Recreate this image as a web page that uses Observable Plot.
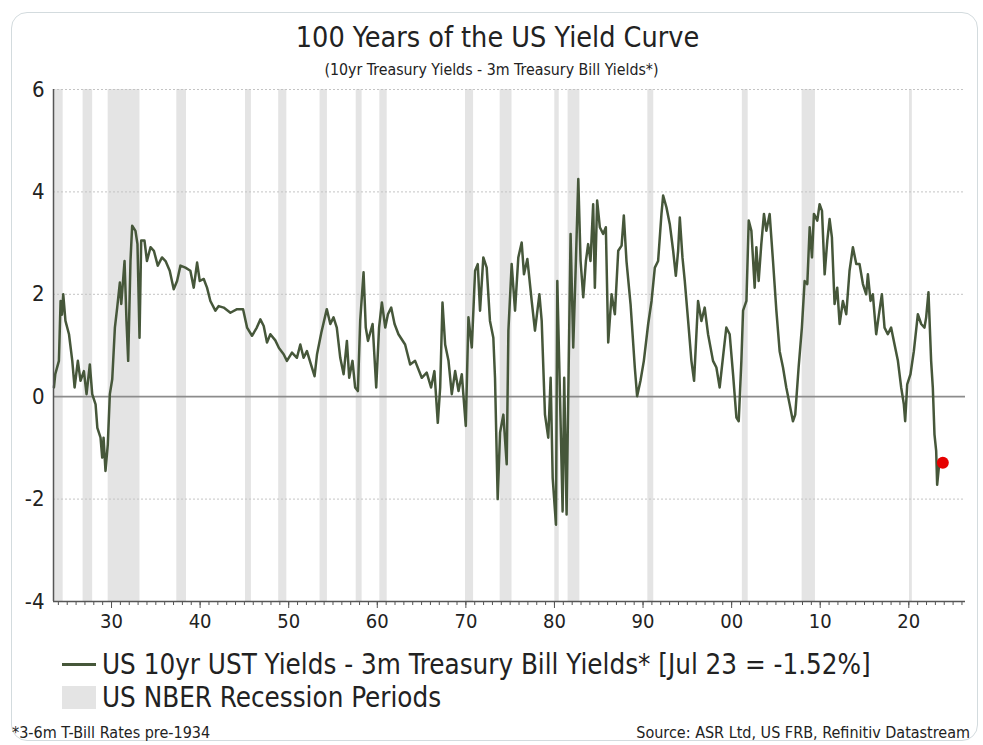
<!DOCTYPE html>
<html><head><meta charset="utf-8">
<script src="https://cdn.jsdelivr.net/npm/d3@7"></script>
<script src="https://cdn.jsdelivr.net/npm/@observablehq/plot@0.6"></script>
<style>
body{margin:0;background:#fff;width:983px;height:745px;position:relative;overflow:hidden;font-family:"DejaVu Sans Condensed","Liberation Sans Narrow","DejaVu Sans",sans-serif;font-stretch:condensed;color:#222}
#frame{position:absolute;left:11px;top:12px;width:967px;height:729px;border:1px solid #d3dbde;border-radius:16px;box-sizing:border-box}
#title{position:absolute;left:6px;width:983px;top:21px;text-align:center;font-size:28.5px;line-height:34px;color:#222}
#subtitle{position:absolute;left:0;width:983px;top:61px;text-align:center;font-size:15.8px;line-height:18px;color:#222}
#chart{position:absolute;left:0;top:70px}
.leg{position:absolute;left:62px;height:33px;display:flex;align-items:center;font-size:27.5px;line-height:33px;color:#222}
.sw-line{width:34px;height:3px;background:#46573a;margin-right:6px}
.sw-rect{width:34px;height:23px;background:#e4e4e4;margin-right:6px}
#foot-l{position:absolute;left:12px;top:723px;font-size:16px;line-height:19px}
#foot-r{position:absolute;right:13px;top:723px;font-size:16px;line-height:19px}
</style></head>
<body>
<div id="frame"></div>
<div id="title">100 Years of the US Yield Curve</div>
<div id="subtitle">(10yr Treasury Yields - 3m Treasury Bill Yields*)</div>
<div id="chart"></div>
<div class="leg" style="top:648px"><div class="sw-line"></div><span>US 10yr UST Yields - 3m Treasury Bill Yields* [Jul 23 = -1.52%]</span></div>
<div class="leg" style="top:681px"><div class="sw-rect"></div><span>US NBER Recession Periods</span></div>
<div id="foot-l">*3-6m T-Bill Rates pre-1934</div>
<div id="foot-r">Source: ASR Ltd, US FRB, Refinitiv Datastream</div>
<script>
const years = [1923.50,1923.65,1924.06,1924.25,1924.40,1924.55,1924.80,1925.20,1925.57,1925.83,1926.20,1926.50,1926.88,1927.18,1927.55,1927.82,1928.20,1928.40,1928.76,1928.95,1929.10,1929.32,1929.58,1929.81,1930.08,1930.38,1930.64,1930.94,1931.10,1931.47,1931.69,1931.88,1932.14,1932.33,1932.70,1932.93,1933.16,1933.35,1933.72,1934.00,1934.40,1934.78,1935.22,1935.70,1936.10,1936.57,1937.02,1937.40,1937.78,1938.34,1938.90,1939.28,1939.66,1939.96,1940.41,1940.78,1941.16,1941.72,1942.10,1942.66,1943.42,1944.17,1944.85,1945.30,1945.86,1946.40,1946.80,1947.18,1947.55,1947.93,1948.49,1948.90,1949.43,1949.80,1950.37,1950.93,1951.31,1951.68,1952.06,1952.44,1952.92,1953.20,1953.68,1954.30,1954.70,1955.06,1955.43,1955.82,1956.20,1956.57,1956.83,1957.20,1957.50,1957.81,1958.07,1958.45,1958.70,1958.95,1959.47,1959.88,1960.20,1960.52,1960.90,1961.20,1961.57,1961.95,1962.39,1963.14,1963.71,1964.27,1965.02,1965.58,1966.07,1966.45,1966.83,1967.10,1967.36,1967.66,1968.04,1968.41,1968.79,1969.17,1969.54,1969.99,1970.29,1970.67,1971.04,1971.34,1971.60,1971.97,1972.35,1972.72,1973.10,1973.29,1973.59,1973.86,1974.23,1974.61,1974.80,1975.17,1975.55,1975.92,1976.30,1976.56,1976.94,1977.43,1977.80,1978.30,1978.56,1978.93,1979.30,1979.57,1979.80,1980.17,1980.32,1980.62,1980.92,1981.10,1981.37,1981.56,1981.82,1982.12,1982.42,1982.69,1982.95,1983.25,1983.55,1983.80,1984.07,1984.37,1984.56,1984.82,1985.12,1985.50,1985.80,1986.07,1986.45,1986.82,1987.20,1987.58,1987.83,1988.13,1988.59,1989.07,1989.33,1989.71,1990.09,1990.58,1990.96,1991.33,1991.70,1992.08,1992.27,1992.64,1993.02,1993.40,1993.70,1993.96,1994.15,1994.45,1994.71,1995.09,1995.46,1995.76,1996.21,1996.59,1996.96,1997.34,1997.90,1998.28,1998.65,1999.10,1999.40,1999.78,2000.16,2000.54,2000.80,2001.10,2001.29,2001.67,2001.93,2002.23,2002.60,2002.79,2003.05,2003.35,2003.65,2003.92,2004.29,2004.67,2005.05,2005.42,2005.80,2006.17,2006.55,2006.92,2007.18,2007.56,2007.93,2008.24,2008.54,2008.81,2009.07,2009.29,2009.67,2009.93,2010.20,2010.50,2010.80,2011.06,2011.32,2011.62,2011.92,2012.19,2012.56,2012.94,2013.31,2013.69,2014.07,2014.44,2014.82,2015.19,2015.38,2015.68,2015.94,2016.32,2016.58,2016.96,2017.26,2017.63,2018.00,2018.39,2018.77,2019.14,2019.44,2019.59,2019.82,2020.19,2020.57,2021.02,2021.40,2021.77,2021.96,2022.22,2022.52,2022.71,2022.90,2023.09,2023.20,2023.46];
const spread = [0.18,0.44,0.70,1.87,1.60,2.00,1.48,1.22,0.70,0.18,0.70,0.31,0.50,0.05,0.63,0.05,-0.15,-0.61,-0.80,-1.19,-0.80,-1.45,-0.93,0.05,0.34,1.35,1.74,2.23,1.81,2.65,1.48,0.70,2.65,3.34,3.24,2.98,1.15,3.05,3.05,2.65,2.92,2.85,2.56,2.72,2.65,2.46,2.10,2.26,2.56,2.52,2.46,2.13,2.62,2.26,2.30,2.13,1.87,1.68,1.77,1.74,1.64,1.71,1.71,1.35,1.19,1.35,1.51,1.38,1.06,1.22,1.10,0.95,0.83,0.70,0.86,0.76,1.02,0.76,0.89,0.67,0.40,0.83,1.25,1.71,1.42,1.55,1.35,0.76,0.44,1.09,0.37,0.70,0.18,0.11,1.48,2.43,1.35,1.09,1.42,0.18,1.35,1.84,1.35,1.61,1.74,1.42,1.22,1.02,0.63,0.70,0.37,0.47,0.18,0.50,-0.51,0.18,1.84,1.02,0.70,0.05,0.50,0.11,0.44,-0.57,1.55,0.96,2.46,2.59,1.68,2.72,2.52,1.48,1.15,0.37,-2.00,-0.70,-0.35,-1.32,1.29,2.59,1.68,2.72,3.01,2.39,2.69,1.87,1.29,2.00,1.48,-0.35,-0.80,0.37,-1.59,-2.50,2.26,0.05,-2.24,0.37,-2.30,0.05,3.18,0.96,2.65,4.25,2.65,1.94,2.65,2.98,2.65,3.76,2.13,3.83,3.31,3.18,3.31,1.06,2.00,1.61,2.85,2.95,3.54,2.65,1.81,0.57,0.01,0.31,0.70,1.42,1.87,2.52,2.65,3.57,3.93,3.70,3.37,2.85,2.36,2.85,3.50,2.72,2.26,1.48,0.70,0.31,1.87,1.48,1.74,1.22,0.70,0.57,0.18,0.89,1.35,1.22,0.44,-0.41,-0.48,0.70,1.68,1.87,3.44,3.24,2.13,2.92,2.26,2.98,3.57,3.24,3.57,2.65,1.68,0.89,0.57,0.18,-0.15,-0.48,-0.35,0.57,1.35,2.26,2.20,3.31,2.72,3.57,3.44,3.76,3.63,2.39,3.05,3.47,3.11,1.81,2.13,1.42,1.87,1.61,2.46,2.92,2.59,2.59,2.20,2.00,2.39,1.87,2.00,1.22,1.55,2.00,1.35,1.22,1.35,1.02,0.70,0.18,-0.15,-0.48,0.24,0.44,0.89,1.61,1.42,1.35,1.55,2.04,0.70,0.18,-0.74,-1.06,-1.72,-1.26];
const latestYear = [2023.84];
const latestValue = [-1.29];
const recStart = [1923.45,1926.79,1929.62,1937.37,1945.12,1948.87,1953.54,1957.62,1960.29,1969.96,1973.87,1980.04,1981.54,1990.54,2001.21,2007.96,2020.08];
const recEnd   = [1924.54,1927.87,1933.21,1938.46,1945.79,1949.79,1954.37,1958.29,1961.12,1970.87,1975.21,1980.54,1982.87,1991.21,2001.87,2009.46,2020.40];
const yTicks = [-4,-2,0,2,4,6];
const gridY = [-2,2,4,6];
const decadeTicks = [1930,1940,1950,1960,1970,1980,1990,2000,2010,2020];
const decadeLabels = ["30","40","50","60","70","80","90","00","10","20"];
const xDomain = [1923.45, 2026.4];
const yDomain = [-4, 6];

const series = years.map((y,i)=>({year:y, v:spread[i]}));
const latest = latestYear.map((y,i)=>({year:y, v:latestValue[i]}));
const recessions = recStart.map((s,i)=>({start:s, end:recEnd[i]}));
const minorTicks = d3.range(1924, 2027);

const chart = Plot.plot({
  width:983, height:580,
  marginLeft:53, marginRight:18, marginTop:19, marginBottom:49,
  style:{fontFamily:'"DejaVu Sans Condensed","Liberation Sans Narrow","DejaVu Sans",sans-serif', fontStretch:"condensed", color:"#222", background:"transparent", overflow:"visible"},
  x:{domain:xDomain, label:null},
  y:{domain:yDomain, label:null},
  marks:[
    Plot.rectX(recessions,{x1:"start",x2:"end",y1:yDomain[0],y2:yDomain[1],fill:"#e4e4e4"}),
    Plot.ruleY(gridY,{stroke:"#c4c4c4",strokeDasharray:"2,2",strokeWidth:1}),
    Plot.ruleY([0],{stroke:"#8c8c8c",strokeWidth:1.8}),
    Plot.line(series,{x:"year",y:"v",stroke:"#46573a",strokeWidth:2.5,strokeLinejoin:"round"}),
    Plot.dot(latest,{x:"year",y:"v",r:6,fill:"#e60000",stroke:null}),
    Plot.axisY({ticks:yTicks,tickSize:0,tickPadding:9,fontSize:22,label:null,tickFormat:d=>String(d).replace("−","-")}),
    Plot.axisX({ticks:minorTicks,tickSize:4,tickFormat:()=>"",label:null,stroke:"#555"}),
    Plot.axisX({ticks:decadeTicks,tickSize:7,tickPadding:5,fontSize:20,label:null,stroke:"#555",tickFormat:d=>decadeLabels[decadeTicks.indexOf(d)]}),
    Plot.ruleY([yDomain[0]],{stroke:"#555",strokeWidth:1.5}),
    Plot.ruleX([xDomain[0]],{stroke:"#555",strokeWidth:1.5})
  ]
});
document.getElementById("chart").appendChild(chart);
</script>
</body></html>
